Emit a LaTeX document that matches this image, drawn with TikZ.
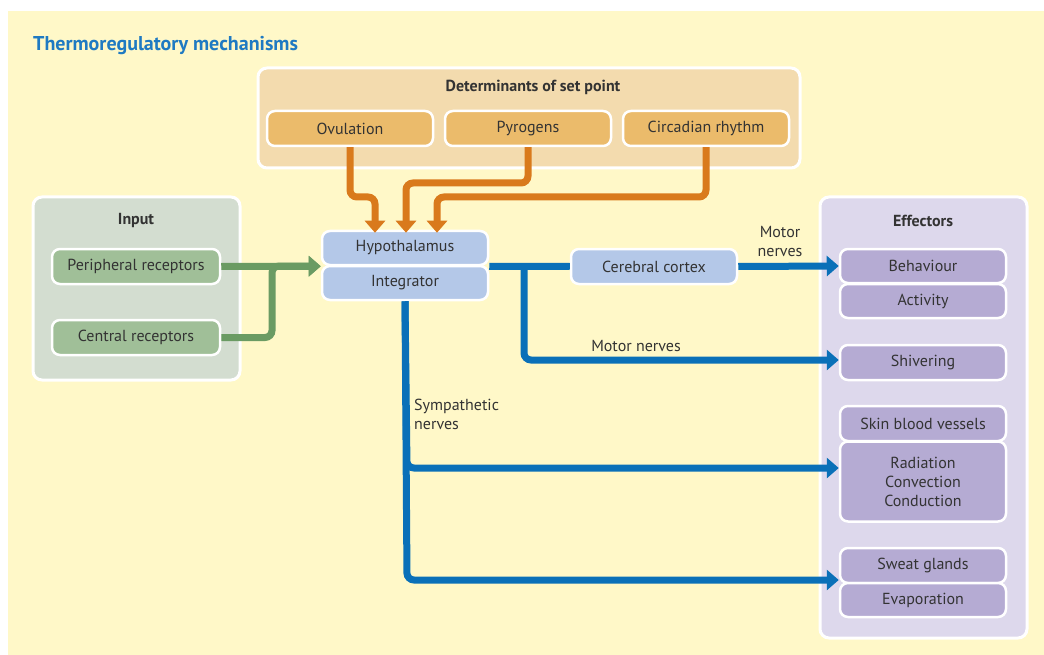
\documentclass[tikz,border=0pt]{standalone}
\usepackage{fontspec}
\setmainfont{PT Sans}
\usetikzlibrary{arrows.meta,calc}

\definecolor{bgyellow}{HTML}{FFF8C8}
\definecolor{detfill}{HTML}{F3DBAE}
\definecolor{orangebox}{HTML}{EBBB6B}
\definecolor{orangeline}{HTML}{D97A1C}
\definecolor{inputfill}{HTML}{D3DDD0}
\definecolor{greenbox}{HTML}{A0BF98}
\definecolor{greenline}{HTML}{6A9B63}
\definecolor{bluebox}{HTML}{B4C8E8}
\definecolor{blueline}{HTML}{0A70B8}
\definecolor{efffill}{HTML}{DDD8EC}
\definecolor{purplebox}{HTML}{B5ABD3}
\definecolor{titleblue}{HTML}{1F7AC2}
\definecolor{textgray}{HTML}{333333}

\tikzset{
  group/.style={draw=white,line width=3pt,rounded corners=9pt},
  item/.style={draw=white,line width=2.5pt,rounded corners=8pt,minimum width=166pt,
    minimum height=35pt,inner sep=0pt,text=textgray,font=\fontsize{16}{19}\selectfont,align=center},
  head/.style={text=textgray,font=\fontsize{16}{19}\selectfont\bfseries},
  lbl/.style={text=textgray,font=\fontsize{16}{19}\selectfont,align=center,inner sep=0pt},
  wire/.style={line width=7pt,rounded corners=7pt},
  tip/.style={-{Triangle[width=20pt,length=12pt]}}
}

\begin{document}
\begin{tikzpicture}[x=1pt,y=-1pt]
\useasboundingbox (0,0) rectangle (1044,655);
\fill[bgyellow] (8,11) rectangle (1044,655);
\node[anchor=base west,inner sep=0pt,text=titleblue,font=\fontsize{20}{22}\selectfont\bfseries] (title) at (33,51) {Thermoregulatory mechanisms};

% determinants of set point
\draw[group,fill=detfill] (258,68) rectangle (800,168);
\node[head] (dethead) at (533,87) {Determinants of set point};
\node[item,fill=orangebox] (ovul) at (350,128.5) {Ovulation};
\node[item,fill=orangebox] (pyro) at (528,128.5) {Pyrogens};
\node[item,fill=orangebox] (circ) at (706,128.5) {Circadian rhythm};

% input
\draw[group,fill=inputfill] (33,197) rectangle (240,380);
\node[head] (inhead) at (136,221) {Input};
\node[item,fill=greenbox,minimum width=168pt] (periph) at (136,266.5) {Peripheral receptors};
\node[item,fill=greenbox,minimum width=168pt] (central) at (136,337.5) {Central receptors};

% integrator
\node[item,fill=bluebox,minimum height=34pt] (hypo) at (405,248) {Hypothalamus};
\node[item,fill=bluebox,minimum height=34pt] (integ) at (405,283) {Integrator};
\node[item,fill=bluebox] (cortex) at (654,266.5) {Cerebral cortex};

% effectors
\draw[group,fill=efffill] (820,197) rectangle (1027,638);
\node[head] (effhead) at (923,221) {Effectors};
\node[item,fill=purplebox,minimum height=34pt] (behav) at (923,266) {Behaviour};
\node[item,fill=purplebox,minimum height=34pt] (activ) at (923,301) {Activity};
\node[item,fill=purplebox] (shiv) at (923,362.5) {Shivering};
\node[item,fill=purplebox] (skin) at (923,423.5) {Skin blood vessels};
\node[item,fill=purplebox,minimum height=80pt] (radia) at (923,481.5) {Radiation\\Convection\\Conduction};
\node[item,fill=purplebox] (sweat) at (923,565.5) {Sweat glands};
\node[item,fill=purplebox,minimum height=34pt] (evap) at (923,600) {Evaporation};

% orange: set point
\draw[wire,tip,orangeline] (ovul.south) -- (350,197) -- (375,197) -- ([xshift=-30pt,yshift=-3pt]hypo.north);
\draw[wire,tip,orangeline] (pyro.south) -- (528,183) -- (406,183) -- ([xshift=1pt,yshift=-3pt]hypo.north);
\draw[wire,tip,orangeline] (circ.south) -- (706,197) -- (437,197) -- ([xshift=32pt,yshift=-3pt]hypo.north);

% green: input
\draw[wire,tip,greenline] (central.east) -- (272,337.5) -- (272,266) -- (hypo.south west);
\draw[wire,tip,greenline] (periph.east) -- (hypo.south west);

% blue: output
\draw[wire,blueline] (hypo.south east) -- (cortex.west);
\draw[wire,tip,blueline] (cortex.east) -- (behav.west);
\draw[wire,tip,blueline] (524,266) -- (524,360) -- (shiv.west |- 0,360);
\draw[wire,tip,blueline] (integ.south) -- (407,468) -- (radia.west |- 0,468);
\draw[wire,tip,blueline] (integ.south) -- (407,580) -- (sweat.west |- 0,580);

\node[lbl] (motor1) at (780,241) {Motor\\nerves};
\node[lbl] (motor2) at (636,346) {Motor nerves};
\node[lbl,anchor=west,align=left] (symp) at (414,414) {Sympathetic\\nerves};
\end{tikzpicture}
\end{document}
